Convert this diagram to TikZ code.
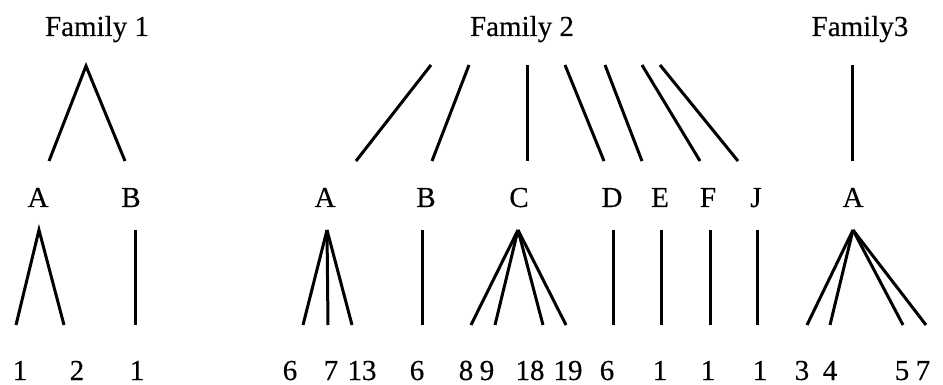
\documentclass[tikz,border=0pt]{standalone}
\usepackage{fontspec}
\setmainfont{Liberation Serif}
\newfontfamily\lblfont[FakeBold=0.3]{Liberation Serif}
\begin{document}
\begin{tikzpicture}[x=1pt,y=-1pt,
  lbl/.style={anchor=base,inner sep=0pt,font=\lblfont\fontsize{29}{31}\selectfont},
  edge/.style={line width=3pt}]
\useasboundingbox (0,0) rectangle (943,385);
% family titles
\node[lbl] (f1) at (97,36) {Family 1};
\node[lbl] (f2) at (522,36) {Family 2};
\node[lbl] (f3) at (860,36) {Family3};
% second row labels
\node[lbl] (a1) at (38,207) {A};
\node[lbl] (b1) at (131,207) {B};
\node[lbl] (a2) at (325,207) {A};
\node[lbl] (b2) at (426,207) {B};
\node[lbl] (c2) at (519,207) {C};
\node[lbl] (d2) at (612,207) {D};
\node[lbl] (e2) at (660,207) {E};
\node[lbl] (g2) at (708,207) {F};
\node[lbl] (j2) at (756,207) {J};
\node[lbl] (a3) at (853,207) {A};
% leaf numbers
\node[lbl] (n1) at (20,380) {1};
\node[lbl] (n2) at (77,380) {2};
\node[lbl] (n3) at (137,380) {1};
\node[lbl] (n4) at (290,380) {6};
\node[lbl] (n5) at (331,380) {7};
\node[lbl] (n6) at (362,380) {13};
\node[lbl] (n7) at (417,380) {6};
\node[lbl] (n8) at (466,380) {8};
\node[lbl] (n9) at (487,380) {9};
\node[lbl] (n10) at (530,380) {18};
\node[lbl] (n11) at (568,380) {19};
\node[lbl] (n12) at (607,380) {6};
\node[lbl] (n13) at (660,380) {1};
\node[lbl] (n14) at (708,380) {1};
\node[lbl] (n15) at (760,380) {1};
\node[lbl] (n16) at (802,380) {3};
\node[lbl] (n17) at (830,380) {4};
\node[lbl] (n18) at (902,380) {5};
\node[lbl] (n19) at (923,380) {7};
% family 1 branch end points
\coordinate (t1) at (86,66);
\coordinate (t1a) at (49,161);
\coordinate (t1b) at (125,161);
\coordinate (p1a) at (39,230);
\coordinate (l1) at (16,325);
\coordinate (l2) at (64,325);
\coordinate (p1b) at (135,230);
\coordinate (l3) at (135,325);
% family 2 upper branches
\coordinate (u1) at (431,65);  \coordinate (v1) at (356,161);
\coordinate (u2) at (469,65);  \coordinate (v2) at (432,161);
\coordinate (u3) at (527,65);  \coordinate (v3) at (527,161);
\coordinate (u4) at (565,65);  \coordinate (v4) at (604,161);
\coordinate (u5) at (605,65);  \coordinate (v5) at (642,161);
\coordinate (u6) at (642,65);  \coordinate (v6) at (700,161);
\coordinate (u7) at (660,65);  \coordinate (v7) at (738,161);
% family 2 lower branches
\coordinate (p2a) at (327,230);
\coordinate (l4) at (303,325); \coordinate (l5) at (328,325); \coordinate (l6) at (352,325);
\coordinate (p2b) at (422,230); \coordinate (l7) at (422,325);
\coordinate (p2c) at (518,230);
\coordinate (l8) at (471,325); \coordinate (l9) at (495,325);
\coordinate (l10) at (543,325); \coordinate (l11) at (566,325);
\coordinate (p2d) at (613,230); \coordinate (l12) at (613,325);
\coordinate (p2e) at (661,230); \coordinate (l13) at (661,325);
\coordinate (p2f) at (710,230); \coordinate (l14) at (710,325);
\coordinate (p2j) at (757,230); \coordinate (l15) at (757,325);
% family 3
\coordinate (t3) at (852,65); \coordinate (t3a) at (852,161);
\coordinate (p3a) at (853,230);
\coordinate (l16) at (807,325); \coordinate (l17) at (830,325);
\coordinate (l18) at (903,325); \coordinate (l19) at (926,325);
% branches
\draw[edge] (t1a) -- (t1) -- (t1b);
\draw[edge] (l1) -- (p1a) -- (l2);
\draw[edge] (p1b) -- (l3);
\foreach \i in {1,...,7} \draw[edge] (u\i) -- (v\i);
\foreach \e in {l4,l5,l6} \draw[edge] (p2a) -- (\e);
\draw[edge] (p2b) -- (l7);
\foreach \e in {l8,l9,l10,l11} \draw[edge] (p2c) -- (\e);
\draw[edge] (p2d) -- (l12);
\draw[edge] (p2e) -- (l13);
\draw[edge] (p2f) -- (l14);
\draw[edge] (p2j) -- (l15);
\draw[edge] (t3) -- (t3a);
\foreach \e in {l16,l17,l18,l19} \draw[edge] (p3a) -- (\e);
\end{tikzpicture}
\end{document}
